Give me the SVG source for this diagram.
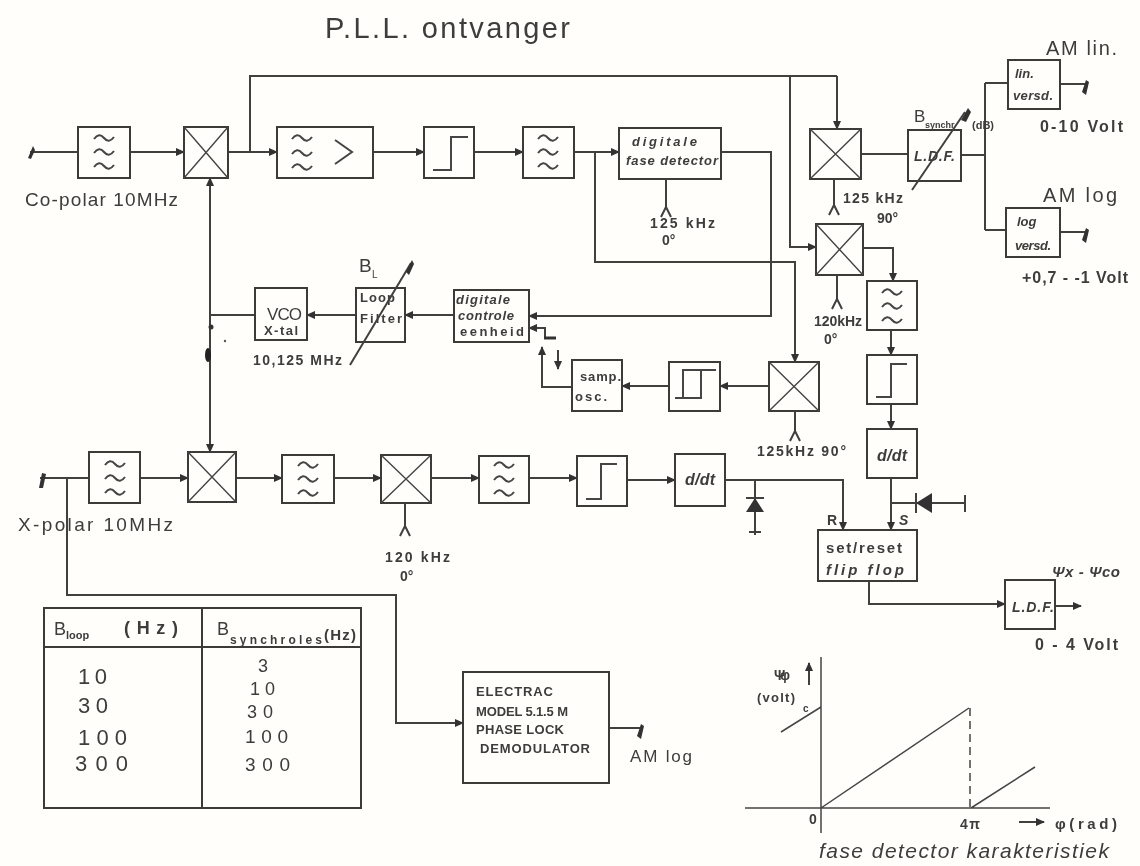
<svg xmlns="http://www.w3.org/2000/svg" xmlns:xlink="http://www.w3.org/1999/xlink" width="1140" height="866" viewBox="0 0 1140 866">
<style>
.b{fill:none;stroke:#3a3a38;stroke-width:2}
.c{fill:none;stroke:#444;stroke-width:1.4}
.l{fill:none;stroke:#3f3f3d;stroke-width:2}
.a{marker-end:url(#ah)}
.th{fill:none;stroke:#444;stroke-width:1.5}
.sym{fill:none;stroke:#444;stroke-width:2}
text{font-family:"Liberation Sans",Arial,sans-serif;fill:#3c3c3a;font-size:14px}
.s{font-size:14px;font-weight:bold}
.n{font-size:13px;font-weight:bold}
.m{font-size:19px}
.i{font-style:italic}
</style>
<defs>
<marker id="ah" markerWidth="9" markerHeight="8" refX="8" refY="4" orient="auto" markerUnits="userSpaceOnUse"><path d="M0 0L9 4L0 8Z" fill="#333"/></marker>
<filter id="soft" x="0" y="0" width="100%" height="100%"><feGaussianBlur stdDeviation="0.55"/></filter>
<path id="t" d="M-10 1q5-7 10-1t10-1" class="sym"/>
<path id="f3" d="M-10-13q5-7 10-1t10-1M-10 1q5-7 10-1t10-1M-10 15q5-7 10-1t10-1" class="sym"/>
<path id="fork" d="M-5 10L0 0L5 10" class="l"/>
</defs>
<rect width="1140" height="866" fill="#fffefb"/>
<g filter="url(#soft)">
<g id="connectors">
<path class="l" d="M30 152H78"/><path d="M28 158L33 146L35 150L31 159Z" fill="#333"/>
<path class="l a" d="M130 152H184"/>
<path class="l a" d="M228 152H277"/>
<path class="l" d="M250 152V76H837"/>
<path class="l a" d="M837 76V129"/>
<path class="l a" d="M790 76V247H816"/>
<path class="l a" d="M373 152H424"/>
<path class="l a" d="M474 152H523"/>
<path class="l a" d="M574 152H619"/>
<path class="l a" d="M595 152V262H795V362"/>
<path class="l a" d="M721 152H771V316H529"/>
<path class="l" d="M861 154H908"/>
<path class="l" d="M961 155H985M985 83V230M985 83H1008M985 230H1006"/>
<path class="l" d="M1060 84H1086"/><path d="M1082 92L1086 80L1089 82L1086 95Z" fill="#333"/>
<path class="l" d="M1060 232H1086"/><path d="M1082 240L1086 228L1089 230L1086 243Z" fill="#333"/>
<path class="l a" d="M863 248H893V281"/>
<path class="l a" d="M891 330V355"/>
<path class="l a" d="M891 404V429"/>
<path class="l a" d="M891 478V530"/>
<path class="l" d="M891 503H965M965 495V512"/>
<path d="M916 503L932 493V513Z" fill="#333"/><path class="l" d="M916 493V513"/>
<path class="l a" d="M869 581V604H1005"/>
<path class="l a" d="M1055 606H1081"/>
<path class="l a" d="M769 386H720"/>
<path class="l a" d="M669 386H622"/>
<path class="l a" d="M454 315H405"/>
<path class="l a" d="M356 315H307"/>
<path class="l" d="M255 315H210"/>
<path class="l a" d="M210 315V178"/>
<path class="l a" d="M210 315V452"/>
<circle cx="211" cy="327" r="2.5" fill="#333"/><ellipse cx="208" cy="355" rx="3" ry="7" fill="#222"/><circle cx="225" cy="341" r="1.2" fill="#555"/>
<path class="l a" d="M572 387H542V347"/>
<path class="l a" d="M558 350V369"/>
<path class="l a" d="M545 337V328H529"/>
<path d="M544 338L556 338" stroke="#333" stroke-width="3"/>
<path class="l" d="M40 478H89"/><path d="M39 488L42 473L46 474L43 488Z" fill="#333"/>
<path class="l a" d="M67 478V595H396V723H463"/>
<path class="l a" d="M140 478H188"/>
<path class="l a" d="M236 478H282"/>
<path class="l a" d="M334 478H381"/>
<path class="l a" d="M431 478H479"/>
<path class="l a" d="M529 478H577"/>
<path class="l a" d="M627 480H675"/>
<path class="l a" d="M725 480H843V530"/>
<path class="l" d="M755 480V535M749 532H761"/>
<path d="M755 498L746 512H764Z" fill="#333"/><path class="l" d="M746 498H764"/>
<path class="l" d="M609 728H641"/><path d="M637 736L641 724L644 726L641 739Z" fill="#333"/>
</g>
<g id="filter-co"><rect class="b" x="78" y="127" width="52" height="51"/><use xlink:href="#f3" x="104" y="152"/></g>
<g id="mixer-co"><rect class="b" x="184" y="127" width="44" height="51"/><path class="c" d="M184 127L228 178M228 127L184 178"/></g>
<g id="amp"><rect class="b" x="277" y="127" width="96" height="51"/><use xlink:href="#t" x="302" y="138"/><use xlink:href="#t" x="302" y="153"/><use xlink:href="#t" x="302" y="167"/><path class="sym" d="M335 140L352 152L335 164"/></g>
<g id="limiter-co"><rect class="b" x="424" y="127" width="50" height="51"/><path class="sym" d="M433 170H451V137H468"/></g>
<g id="filter-co2"><rect class="b" x="523" y="127" width="51" height="51"/><use xlink:href="#f3" x="548" y="152"/></g>
<g id="phase-detector"><rect class="b" x="619" y="128" width="102" height="51"/><text class="n i" x="632" y="146" textLength="65">digitale</text><text class="n i" x="626" y="165" textLength="92">fase detector</text><path class="l" d="M666 179V208"/><use xlink:href="#fork" x="666" y="207"/><text class="s" x="650" y="228" textLength="65">125 kHz</text><text class="s" x="662" y="245">0°</text></g>
<g id="mixer-lin"><rect class="b" x="810" y="129" width="51" height="50"/><path class="c" d="M810 129L861 179M861 129L810 179"/><path class="l" d="M834 179V206"/><use xlink:href="#fork" x="834" y="205"/><text class="s" x="843" y="203" textLength="60">125 kHz</text><text class="s" x="877" y="223">90°</text></g>
<g id="mixer-120"><rect class="b" x="816" y="224" width="47" height="51"/><path class="c" d="M816 224L863 275M863 224L816 275"/><path class="l" d="M837 275V301"/><use xlink:href="#fork" x="837" y="299"/><text class="s" x="814" y="326" textLength="48">120kHz</text><text class="s" x="824" y="344">0°</text></g>
<g id="ldf-main"><rect class="b" x="908" y="130" width="53" height="51"/><text class="s i" x="914" y="161" textLength="41">L.D.F.</text><path class="l" d="M912 190L965 112"/><path d="M961 120L968 108L971 112L966 122Z" fill="#333"/><text style="font-size:17px" x="914" y="122">B</text><text x="925" y="128" style="font-size:9px;font-weight:bold">synchr</text><text x="972" y="129" style="font-size:11px;font-weight:bold">(dB)</text></g>
<g id="lin-versd"><rect class="b" x="1008" y="60" width="52" height="49"/><text class="n i" x="1015" y="78">lin.</text><text class="n i" x="1013" y="100" textLength="40">versd.</text><text x="1046" y="55" textLength="71" style="font-size:20px">AM lin.</text><text x="1040" y="132" textLength="83" style="font-size:16px;font-weight:bold">0-10 Volt</text></g>
<g id="log-versd"><rect class="b" x="1006" y="208" width="54" height="49"/><text class="n i" x="1017" y="226">log</text><text class="n i" x="1015" y="250" textLength="36">versd.</text><text x="1043" y="202" textLength="74" style="font-size:20px">AM log</text><text x="1022" y="283" textLength="106" style="font-size:16px;font-weight:bold">+0,7 - -1 Volt</text></g>
<g id="filter-lin"><rect class="b" x="867" y="281" width="50" height="49"/><use xlink:href="#f3" x="892" y="306"/></g>
<g id="limiter-lin"><rect class="b" x="867" y="355" width="50" height="49"/><path class="sym" d="M876 397H891V364H907"/></g>
<g id="ddt-lin"><rect class="b" x="867" y="429" width="50" height="49"/><text class="s i" x="877" y="461" textLength="30" style="font-size:16px">d/dt</text></g>
<g id="set-reset"><rect class="b" x="818" y="530" width="99" height="51"/><text class="s" x="826" y="553" textLength="76" style="font-size:15px">set/reset</text><text class="s i" x="826" y="575" textLength="78" style="font-size:15px">flip flop</text><text class="s" x="827" y="525">R</text><text class="s i" x="899" y="525">S</text></g>
<g id="ldf-out"><rect class="b" x="1005" y="580" width="50" height="49"/><text class="s i" x="1012" y="612" textLength="42">L.D.F.</text><text class="s i" x="1052" y="577" textLength="68" style="font-size:15px">Ψx - Ψco</text><text x="1035" y="650" textLength="83" style="font-size:16px;font-weight:bold">0 - 4 Volt</text></g>
<g id="mixer-90"><rect class="b" x="769" y="362" width="50" height="49"/><path class="c" d="M769 362L819 411M819 362L769 411"/><path class="l" d="M795 411V433"/><use xlink:href="#fork" x="795" y="431"/><text class="s" x="757" y="456" textLength="89">125kHz 90°</text></g>
<g id="schmitt"><rect class="b" x="669" y="362" width="51" height="49"/><path class="sym" d="M675 398H701V370M683 398V370H716"/></g>
<g id="sample-osc"><rect class="b" x="572" y="360" width="50" height="51"/><text class="n" x="580" y="381" textLength="41">samp.</text><text class="n" x="575" y="401" textLength="32">osc.</text></g>
<g id="control"><rect class="b" x="454" y="290" width="75" height="52"/><text class="n i" x="456" y="304" textLength="54">digitale</text><text class="n i" x="458" y="320" textLength="56">controle</text><text class="n" x="460" y="336" textLength="64">eenheid</text></g>
<g id="loop-filter"><rect class="b" x="356" y="288" width="49" height="54"/><text class="n" x="360" y="302" textLength="35">Loop</text><text class="n" x="360" y="323" textLength="42">Filter</text><path class="l" d="M350 365L411 263"/><path d="M406 272L412 260L414 264L409 275Z" fill="#333"/><text x="359" y="272" style="font-size:19px">B</text><text x="372" y="278" style="font-size:10px">L</text></g>
<g id="vco"><rect class="b" x="255" y="288" width="52" height="52"/><text x="267" y="320" textLength="35" style="font-size:17px">VCO</text><text class="n" x="264" y="335" textLength="34">X-tal</text><text class="s" x="253" y="365" textLength="89">10,125 MHz</text></g>
<g id="filter-x"><rect class="b" x="89" y="452" width="51" height="51"/><use xlink:href="#f3" x="115" y="478"/></g>
<g id="mixer-x"><rect class="b" x="188" y="452" width="48" height="50"/><path class="c" d="M188 452L236 502M236 452L188 502"/></g>
<g id="filter-x2"><rect class="b" x="282" y="455" width="52" height="48"/><use xlink:href="#f3" x="308" y="479"/></g>
<g id="mixer-x2"><rect class="b" x="381" y="455" width="50" height="48"/><path class="c" d="M381 455L431 503M431 455L381 503"/><path class="l" d="M405 503V526"/><use xlink:href="#fork" x="405" y="526"/><text class="s" x="385" y="562" textLength="65">120 kHz</text><text class="s" x="400" y="581">0°</text></g>
<g id="filter-x3"><rect class="b" x="479" y="456" width="50" height="47"/><use xlink:href="#f3" x="504" y="479"/></g>
<g id="limiter-x"><rect class="b" x="577" y="456" width="50" height="50"/><path class="sym" d="M586 499H601V464H617"/></g>
<g id="ddt-x"><rect class="b" x="675" y="454" width="50" height="52"/><text class="s i" x="685" y="485" textLength="30" style="font-size:16px">d/dt</text></g>
<g id="demod"><rect class="b" x="463" y="672" width="146" height="111"/><text class="n" x="476" y="696" textLength="77">ELECTRAC</text><text class="n" x="476" y="716" textLength="92">MODEL 5.1.5 M</text><text class="n" x="476" y="734" textLength="88">PHASE LOCK</text><text class="n" x="480" y="753" textLength="110">DEMODULATOR</text><text x="630" y="762" textLength="62" style="font-size:17px">AM log</text></g>
<g id="labels"><text x="325" y="38" style="font-size:29px" textLength="245">P.L.L. ontvanger</text><text class="m" x="25" y="206" textLength="153">Co-polar 10MHz</text><text class="m" x="18" y="531" textLength="155">X-polar 10MHz</text></g>
<g id="table"><path class="b" d="M44 608H361V808H44ZM202 608V808M44 647H361"/>
<text style="font-size:18px" x="54" y="635">B</text><text x="66" y="639" style="font-size:11px;font-weight:bold">loop</text><text x="124" y="634" textLength="54" style="font-size:18px;font-weight:bold">(Hz)</text>
<text style="font-size:18px" x="217" y="635">B</text><text x="230" y="644" style="font-size:12px;font-weight:bold" textLength="92">synchroles</text><text x="324" y="640" textLength="32" style="font-size:15px;font-weight:bold">(Hz)</text>
<text x="78" y="684" style="font-size:22px" textLength="29">10</text><text x="78" y="713" style="font-size:22px" textLength="30">30</text><text x="78" y="745" style="font-size:22px" textLength="49">100</text><text x="75" y="771" style="font-size:22px" textLength="53">300</text>
<text x="258" y="672" style="font-size:18px">3</text><text x="250" y="695" style="font-size:18px" textLength="25">10</text><text x="247" y="718" style="font-size:18px" textLength="26">30</text><text x="245" y="743" style="font-size:19px" textLength="43">100</text><text x="245" y="771" style="font-size:19px" textLength="45">300</text></g>
<g id="chart"><path class="th" d="M821 657V833M745 808H1050M821 808L969 708M971 808L1035 767M781 732L821 707"/><path class="th" stroke-dasharray="8 5" d="M970 708V808"/>
<path class="l a" d="M809 685V663"/><path class="l a" d="M1019 822H1044"/>
<text class="s" x="774" y="680" textLength="16">Ψφ</text><text class="n" x="757" y="702" textLength="38">(volt)</text><text x="803" y="712" style="font-size:10px;font-weight:bold">c</text>
<text class="s" x="809" y="824">0</text><text class="s" x="960" y="829" textLength="20">4π</text><text x="1055" y="829" textLength="62" style="font-size:15px;font-weight:bold">φ(rad)</text>
<text x="819" y="858" textLength="290" style="font-size:21px;font-style:italic">fase detector karakteristiek</text></g>
</g>
</svg>
